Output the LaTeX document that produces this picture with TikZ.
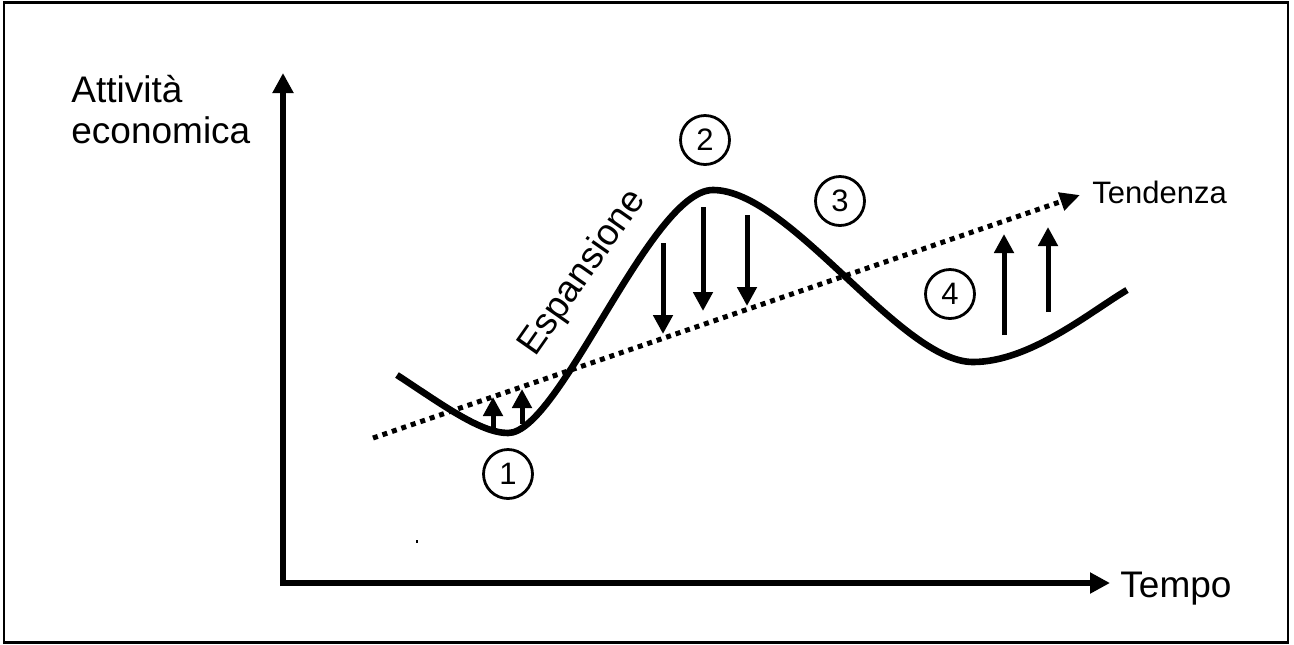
\documentclass[tikz,border=0pt]{standalone}
\usepackage{fontspec}
\setmainfont{Liberation Sans}
\usetikzlibrary{arrows.meta}
\begin{document}
\begin{tikzpicture}[x=0.5pt,y=-0.5pt,
  axis/.style={line width=3pt,-{Triangle[length=10pt,width=10pt]}},
  bigtxt/.style={inner sep=0pt,font=\fontsize{18.5pt}{20.5pt}\selectfont},
  smalltxt/.style={inner sep=0pt,font=\fontsize{15.5pt}{17pt}\selectfont},
  numcirc/.style={draw,circle,line width=1.4pt,minimum size=24.5pt,inner sep=0pt,font=\fontsize{15.5pt}{17pt}\selectfont},
  cycle/.style={line width=3.3pt},
  trend/.style={line width=2.5pt,dash pattern=on 2.5pt off 2.5pt,-{Triangle[length=10pt,width=9pt]}},
  move/.style={line width=2.5pt,-{Triangle[length=9.5pt,width=9.5pt]}}]
\useasboundingbox (0,0) rectangle (1294,644);
\draw[line width=1.3pt] (4,2.5) rectangle (1288,642.5);
% axes
\coordinate (origin) at (283,583);
\coordinate (ytip) at (283,73);
\coordinate (xtip) at (1110,583);
\draw[axis] (283,586) -- (ytip);
\draw[axis] (280,583) -- (xtip);
\node[bigtxt,anchor=base west] (att) at (71,102) {Attività};
\node[bigtxt,anchor=base west] (eco) at (71,143) {economica};
\node[bigtxt,anchor=base west] (tempo) at (1120,597) {Tempo};
% trend
\coordinate (tstart) at (373,438);
\coordinate (tend) at (1080,195);
\draw[trend] (tstart) -- (tend);
\node[smalltxt,anchor=base west] (tend-lbl) at (1092,203) {Tendenza};
% cycle curve
\coordinate (c0) at (397,375);
\coordinate (c1) at (508,433);
\coordinate (c2) at (713,190);
\coordinate (c3) at (973,362);
\coordinate (c4) at (1127,290);
\draw[cycle] (c0) .. controls (440,403) and (480,433) .. (c1)
  .. controls (560,433) and (650,190) .. (c2)
  .. controls (790,190) and (900,362) .. (c3)
  .. controls (1030,362) and (1090,312) .. (c4);
\node[bigtxt,rotate=55] (esp) at (583,273) {Espansione};
% movement arrows
\coordinate (a1s) at (493,429); \coordinate (a1e) at (493,397);
\coordinate (a2s) at (522,424); \coordinate (a2e) at (522,389);
\coordinate (b1s) at (663,243); \coordinate (b1e) at (663,334);
\coordinate (b2s) at (703,207); \coordinate (b2e) at (703,311);
\coordinate (b3s) at (747,215); \coordinate (b3e) at (747,306);
\coordinate (d1s) at (1004,335); \coordinate (d1e) at (1004,234);
\coordinate (d2s) at (1048,312); \coordinate (d2e) at (1048,227);
\draw[move] (a1s) -- (a1e);
\draw[move] (a2s) -- (a2e);
\draw[move] (b1s) -- (b1e);
\draw[move] (b2s) -- (b2e);
\draw[move] (b3s) -- (b3e);
\draw[move] (d1s) -- (d1e);
\draw[move] (d2s) -- (d2e);
% numbered circles
\node[numcirc] (n1) at (508,474) {1};
\node[numcirc] (n2) at (705,140) {2};
\node[numcirc] (n3) at (840,201) {3};
\node[numcirc] (n4) at (950,294) {4};
% stray dot
\fill (416,539.5) rectangle (418,542.5);
\end{tikzpicture}
\end{document}
